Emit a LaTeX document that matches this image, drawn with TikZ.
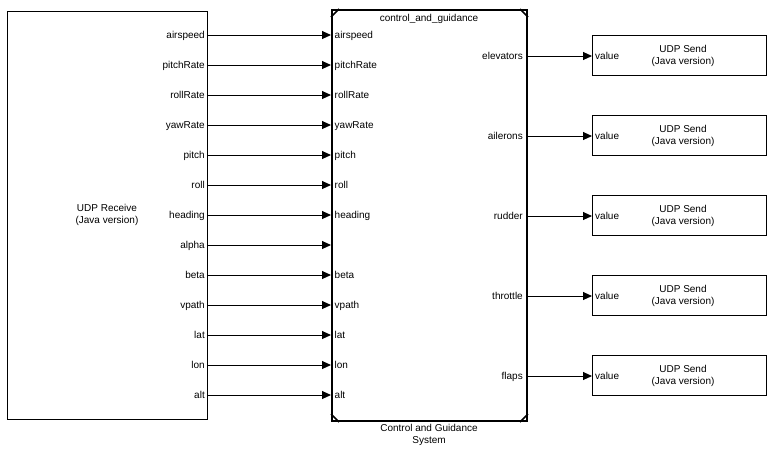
\documentclass[tikz,border=0pt]{standalone}
\usepackage{fontspec}
\setmainfont{Liberation Sans}
\usetikzlibrary{arrows.meta}
\begin{document}
\begin{tikzpicture}[x=1pt,y=-1pt,
  lbl/.style={font=\fontsize{10}{12}\selectfont, inner sep=0pt},
  sig/.style={line width=1pt, -{Triangle[length=9pt,width=8pt]}},
  blk/.style={draw, line width=1pt, inner sep=0pt},
  chord/.style={line width=1.5pt}]
\useasboundingbox (0,0) rectangle (773,451);
\fill[white] (0,0) rectangle (773,451);
% UDP Receive block
\node[blk, minimum width=200pt, minimum height=408pt] (recv) at (107,215) {};
\node[lbl, align=center] (recvtxt) at (107,215) {UDP Receive\\(Java version)};
% control and guidance block
\node[draw, line width=2pt, minimum width=195pt, minimum height=411pt, inner sep=0pt] (cg) at (429.5,215.5) {};
\draw[chord] ([yshift=-8pt]cg.north west) -- ([xshift=8pt]cg.north west);
\draw[chord] ([yshift=-8pt]cg.north east) -- ([xshift=-8pt]cg.north east);
\draw[chord] ([yshift=8pt]cg.south west) -- ([xshift=8pt]cg.south west);
\draw[chord] ([yshift=8pt]cg.south east) -- ([xshift=-8pt]cg.south east);
\node[lbl] (cgtitle) at (429,19) {control\_and\_guidance};
\node[lbl, align=center] (cgcap) at (429,435) {Control and Guidance\\System};
% inputs
\foreach \t [count=\i from 0] in {airspeed,pitchRate,rollRate,yawRate,pitch,roll,heading,alpha,beta,vpath,lat,lon,alt} {
  \coordinate (p\i) at (0,35+30*\i);
  \node[lbl, anchor=base east] (ro\i) at (205,38.5+30*\i) {\t};
  \node[lbl, anchor=base west] (ci\i) at (334.5,38.5+30*\i) {\ifnum\i=7\relax\else\t\fi};
  \draw[sig] (recv.east |- p\i) -- (cg.west |- p\i);
}
% outputs
\foreach \t [count=\i from 0] in {elevators,ailerons,rudder,throttle,flaps} {
  \coordinate (q\i) at (0,56+80*\i);
  \node[lbl, anchor=base east] (co\i) at (523,59.5+80*\i) {\t};
  \node[blk, minimum width=174pt, minimum height=40pt] (snd\i) at (679.5,55.5+80*\i) {};
  \node[lbl, align=center] (sndtxt\i) at (683,56+80*\i) {UDP Send\\(Java version)};
  \node[lbl, anchor=base west] (val\i) at (595,59.5+80*\i) {value};
  \draw[sig] (cg.east |- q\i) -- (snd\i.west |- q\i);
}
\end{tikzpicture}
\end{document}
